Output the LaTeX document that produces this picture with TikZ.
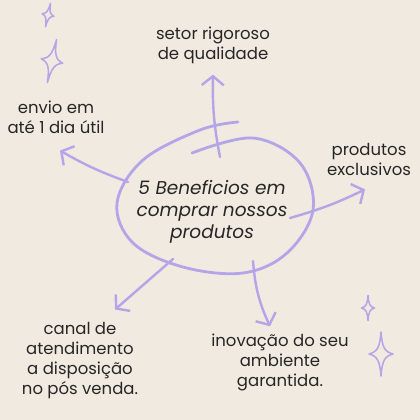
\documentclass[tikz,border=0pt]{standalone}
\usepackage{fontspec}
\setmainfont{Poppins}
\usepackage{tikz}
\usetikzlibrary{positioning,arrows.meta,calc}
\usepackage{xcolor}
\definecolor{paper}{HTML}{F1EAE0}
\definecolor{lilac}{HTML}{B4A4E8}
\definecolor{ink}{HTML}{262626}

\begin{document}
\begin{tikzpicture}[x=1pt, y=-1pt, font=\fontsize{16.5}{20}\selectfont, text=ink,
    label/.style={align=center, inner sep=2pt},
    arrowline/.style={draw=lilac, line width=2.4pt, line cap=round,
      -{Straight Barb[length=9pt, width=22pt, line width=2.4pt]}},
    sparkle/.style={draw=lilac, line width=1.5pt, line join=round}]
    \fill[paper] (0,0) rectangle (420,420);
    \useasboundingbox (0,0) rectangle (420,420);

    % the five labels around the centre
    \node[label] (setor) at (213,45) {setor rigoroso\\ de qualidade};
    \node[label] (envio) at (56,117) {envio em\\ até 1 dia útil};
    \node[label] (produtos) at (369,159) {produtos\\ exclusivos};
    \node[label] (canal) at (80,361) {canal de\\ atendimento\\ a disposição\\ no pós venda.};
    \node[label] (inovacao) at (280,362) {inovação do seu\\ ambiente\\ garantida.};

    % centre
    \node[label, font=\fontsize{18.5}{22}\selectfont\itshape] (beneficios) at (212,212)
         {5 Beneficios em\\ comprar nossos\\ produtos};
    \draw[lilac, line width=2.8pt, line cap=round] plot[smooth, tension=0.6] coordinates {
        (192,153) (253,138) (300,163) (313,210) (287,253) (243,273) (183,267)
        (133,243) (117,203) (143,160) (200,130) (238,122)};

    \coordinate (b1) at (220,157);
    \coordinate (b2) at (128,182);
    \coordinate (b3) at (290,218);
    \coordinate (b4) at (173,259);
    \coordinate (b5) at (253,261);

    \draw[arrowline] (b1) to[bend left=6] ([yshift=-9pt]setor.south);
    \draw[arrowline] (b2) to[bend left=5] ([xshift=4pt, yshift=-15pt]envio.south);
    \draw[arrowline] (b3) to[bend right=5] ([xshift=-4pt, yshift=-12pt]produtos.south);
    \draw[arrowline] (b4) -- ([xshift=35pt, yshift=11pt]canal.north);
    \draw[arrowline] (b5) to[bend right=10] ([xshift=-10pt, yshift=5pt]inovacao.north);

    % sparkles
    \foreach \cx/\cy/\w/\h/\a in {48/15/6/12/-12, 52/61/11/22/-12, 368/308/6.5/12.5/0, 381/354/12/22/0}
      \draw[sparkle, rotate around={\a:(\cx,\cy)}]
        (\cx,\cy-\h) .. controls (\cx+0.1*\w,\cy-0.3*\h) and (\cx+0.3*\w,\cy-0.1*\h) .. (\cx+\w,\cy)
        .. controls (\cx+0.3*\w,\cy+0.1*\h) and (\cx+0.1*\w,\cy+0.3*\h) .. (\cx,\cy+\h)
        .. controls (\cx-0.1*\w,\cy+0.3*\h) and (\cx-0.3*\w,\cy+0.1*\h) .. (\cx-\w,\cy)
        .. controls (\cx-0.3*\w,\cy-0.1*\h) and (\cx-0.1*\w,\cy-0.3*\h) .. cycle;
\end{tikzpicture}
\end{document}
